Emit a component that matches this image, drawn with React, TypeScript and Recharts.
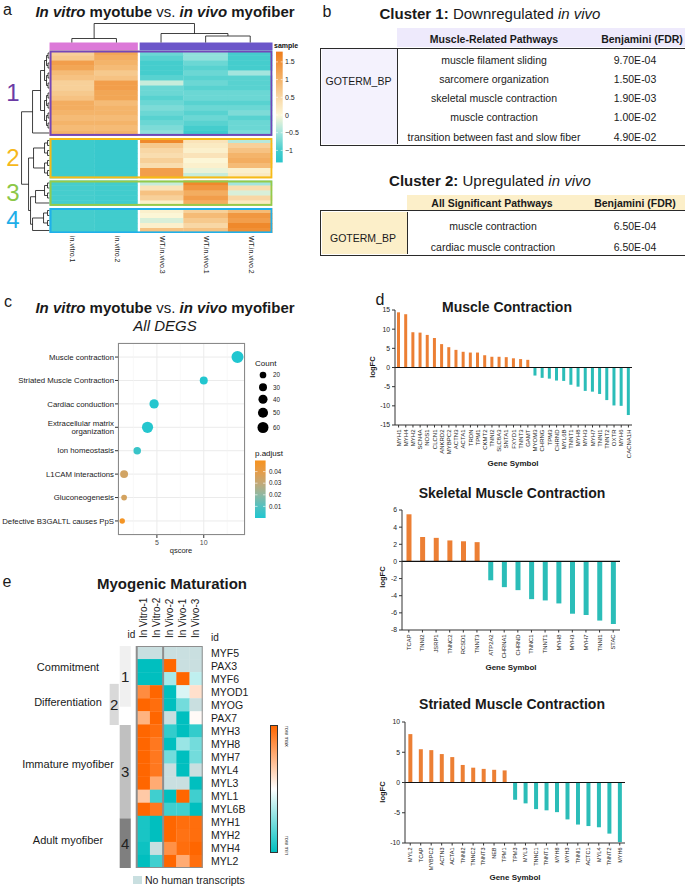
import React from 'react'
import {
  BarChart,
  Bar,
  Cell,
  XAxis,
  YAxis,
  ZAxis,
  ScatterChart,
  Scatter,
  CartesianGrid,
  ReferenceLine,
  ReferenceArea,
} from 'recharts'

const FONT = '"Liberation Sans", Arial, Helvetica, sans-serif'
const ORANGE = '#ec7f34'
const TEAL = '#2bbdb8'

// ---------- a: clustered heatmap (row z-scores) ----------
const sampleNames = ['in.vitro.1', 'in.vitro.2', 'WT.in.vivo.3', 'WT.in.vivo.1', 'WT.in.vivo.2']
const clusterLabels = ['1', '2', '3', '4']
const cluster1Rows = [
  [0.6, 1.2, -0.8, -0.6, -1.0],
  [0.7, 1.1, -0.9, -0.6, -1.0],
  [1.3, 1.0, -1.0, -0.8, -1.0],
  [1.2, 0.9, -1.0, -0.9, -1.0],
  [0.9, 0.7, -1.0, -0.8, -0.5],
  [0.8, 0.8, -0.9, -0.9, -0.9],
  [0.6, 1.3, -0.3, -0.8, -0.9],
  [0.6, 1.3, -0.8, -0.9, -0.9],
  [0.7, 1.2, -0.8, -0.8, -0.8],
  [0.8, 1.2, -0.9, -0.8, -0.8],
  [1.1, 0.9, -0.8, -0.9, -0.9],
  [1.1, 1.0, -0.7, -0.8, -0.8],
  [1.0, 1.0, -0.8, -0.9, -0.7],
  [0.9, 0.9, -0.9, -0.8, -0.9],
  [1.0, 1.0, -0.8, -0.9, -0.8],
  [0.9, 0.9, -0.7, -1.0, -0.8],
  [1.0, 1.0, -0.6, -1.1, -0.7],
]
const cluster2Rows = [
  [-1.1, -1.15, 1.6, 0.3, -0.4],
  [-1.1, -1.15, 0.7, 0.2, 0.6],
  [-1.1, -1.15, 0.5, 0.1, 0.8],
  [-1.1, -1.15, 0.4, 0.3, 1.0],
  [-1.1, -1.15, 0.6, 0.0, 1.1],
  [-1.1, -1.15, 0.4, 0.1, 0.9],
  [-1.1, -1.15, 1.3, -0.1, 0.1],
  [-1.1, -1.15, 1.3, -0.3, 0.2],
]
const cluster3Rows = [
  [-1.0, -1.05, -0.3, 1.6, -0.5],
  [-1.0, -1.05, 0.3, 1.4, 0.4],
  [-1.0, -1.05, 0.8, 1.1, -0.2],
  [-1.0, -1.05, 0.6, 1.3, 0.5],
  [-1.0, -1.05, 0.1, 1.1, 0.2],
]
const cluster4Rows = [
  [-1.0, -1.05, 0.1, 0.6, 0.9],
  [-1.0, -1.05, 0.0, 0.9, 1.4],
  [-1.0, -1.05, -0.2, 0.7, 1.3],
  [-1.0, -1.05, 0.1, 0.5, 1.6],
  [-1.0, -1.05, 0.8, 0.8, 1.5],
]
const legendTicksA = [1.5, 1, 0.5, 0, -0.5, -1]
// hclust-style merges for samples: negative = leaf, positive = earlier merge
const colMerges = [[-1, -2, 4], [-4, -5, 6.5], [-3, 2, 9], [1, 3, 19]]
// row tree: merge heights per level inside each cluster, then between clusters
const rowTreeLevels = [[1.5, 3, 5, 9, 17], [2, 5, 16], [2, 5, 14], [2, 6, 17]]
const rowTreeUpper = [19, 21, 28]

// ---------- b: tables ----------
const table1Pathways = [
  'muscle filament sliding',
  'sarcomere organization',
  'skeletal muscle contraction',
  'muscle contraction',
  'transition between fast and slow fiber',
]
const table1Fdr = ['9.70E-04', '1.50E-03', '1.90E-03', '1.00E-02', '4.90E-02']
const table2Pathways = ['muscle contraction', 'cardiac muscle contraction']
const table2Fdr = ['6.50E-04', '6.50E-04']

// ---------- c: enrichment dot plot ----------
const termLabels = [
  'Muscle contraction',
  'Striated Muscle Contraction',
  'Cardiac conduction',
  'Extracellular matrix\norganization',
  'Ion homeostasis',
  'L1CAM interactions',
  'Gluconeogenesis',
  'Defective B3GALTL causes PpS',
]
const termQscore = [13.6, 10.0, 4.7, 4.0, 2.9, 1.5, 1.5, 1.3]
const termCount = [72, 30, 42, 62, 26, 30, 14, 12]
const termPadj = [0.0002, 0.0004, 0.001, 0.001, 0.005, 0.034, 0.035, 0.048]
const countLegend = [20, 30, 40, 50, 60]
const padjLegend = [0.04, 0.03, 0.02, 0.01]

// ---------- d: logFC bar charts ----------
const mcGenes = ['MYH1', 'MYH4', 'MYH2', 'SCN4A', 'NOS1', 'CLCN1', 'ANKRD2', 'MYBPC2', 'ACTN3', 'ACTA1', 'TRDN', 'TPM1', 'CKMT2', 'TNNI2', 'SLC8A3', 'SNTA1', 'FXYD1', 'TNNT3', 'GAMT', 'MYOM3', 'CHRNG', 'TPM3', 'CHRND', 'MYL6B', 'TNNT1', 'MYH8', 'MYH3', 'MYH7', 'TNNI1', 'TNNT2', 'OXTR', 'MYH6', 'CACNA1H']
const mcLogFC = [14.4, 13.9, 9.2, 9.1, 8.5, 7.7, 6.1, 5.3, 4.6, 4.1, 3.9, 3.9, 3.2, 2.8, 2.8, 2.7, 2.4, 2.2, 2.0, -2.1, -2.7, -2.9, -3.4, -3.5, -4.5, -5.0, -6.1, -6.3, -6.9, -8.5, -9.9, -10.0, -12.4]
const skGenes = ['TCAP', 'TNNI2', 'JSRP1', 'TNNC2', 'RCSD1', 'TNNT3', 'ATP2A2', 'CHRNA1', 'CHRND', 'TNNC1', 'TNNT1', 'MYH8', 'MYH3', 'MYH7', 'TNNI1', 'STAC']
const skLogFC = [5.5, 2.85, 2.75, 2.45, 2.35, 2.25, -2.2, -3.0, -3.35, -4.4, -4.55, -4.9, -6.1, -6.25, -6.9, -7.3]
const stGenes = ['MYL2', 'TCAP', 'MYBPC2', 'ACTN3', 'ACTA1', 'TNNI2', 'TNNC2', 'TNNT3', 'NEB', 'TPM1', 'TPM3', 'MYL3', 'TNNC1', 'TNNT1', 'MYH8', 'MYH3', 'TNNI1', 'ACTC1', 'MYL4', 'TNNT2', 'MYH6']
const stLogFC = [8.0, 5.5, 5.35, 4.7, 4.2, 2.9, 2.45, 2.25, 2.1, 2.0, -2.85, -3.45, -4.4, -4.6, -4.9, -6.1, -6.95, -7.2, -7.4, -8.45, -9.85]

// ---------- e: myogenic maturation heatmap ----------
const eSamples = ['In Vitro-1', 'In Vitro-2', 'In Vivo-2', 'In Vivo-1', 'In Vivo-3']
const eGenes = ['MYF5', 'PAX3', 'MYF6', 'MYOD1', 'MYOG', 'PAX7', 'MYH3', 'MYH8', 'MYH7', 'MYL4', 'MYL3', 'MYL1', 'MYL6B', 'MYH1', 'MYH2', 'MYH4', 'MYL2']
// null = no human transcripts
const eValues = [
  [null, null, null, null, null],
  [-1, -1, 1, null, null],
  [-1, -1, -0.35, 1, -0.25],
  [0.75, 1, -1, -0.15, 0.2],
  [1, 0.95, -1, -0.55, null],
  [0.5, 1, null, -1, 0.03],
  [1, 0.95, -0.8, -1, -0.8],
  [1, 0.88, -1, -0.4, -0.55],
  [1, 0.88, -0.55, -1, -0.55],
  [1, 0.88, null, -1, null],
  [1, 0.55, null, null, -1],
  [0.35, -0.75, -1, 1, -0.75],
  [1, 0.88, -0.75, -0.75, -1],
  [-0.9, -1, 1, 0.95, 0.95],
  [-0.9, -1, 1, 0.92, 0.95],
  [-0.95, null, 0.72, 0.95, 1],
  [-1, -0.75, 1, 0.55, 0.95],
]
const eGroupIds = ['1', '2', '3', '4']
const eGroupNames = ['Commitment', 'Differentiation', 'Immature myofiber', 'Adult myofiber']
const eGroupSpans = [[0, 4.65], [2.9, 6.05], [6.05, 13.2], [13.2, 17]]

// ---------- colour helpers ----------
const A_STOPS: [number, string][] = [
  [-1.34, '#29c5cc'], [-1, '#45cdcd'], [-0.5, '#a3e5de'], [0, '#fcf6d6'],
  [0.5, '#f8d7a5'], [1, '#f4b46a'], [1.5, '#f09036'], [1.79, '#ee7d1a'],
]
const P_STOPS: [number, string][] = [
  [0, '#20c6d0'], [0.01, '#52c1c0'], [0.02, '#8fb8a2'], [0.03, '#c3a977'], [0.04, '#e59c48'], [0.0496, '#f7931e'],
]
const E_STOPS: [number, string][] = [[-1, '#00bfbf'], [0, '#ffffff'], [1, '#ff6600']]
const NO_HUMAN = '#c9dfe0'

function rgb(h: string) {
  return [1, 3, 5].map((i) => parseInt(h.slice(i, i + 2), 16))
}
function mix(stops: [number, string][], v: number) {
  if (v <= stops[0][0]) return stops[0][1]
  for (let i = 1; i < stops.length; i++) {
    if (v <= stops[i][0]) {
      const [v0, c0] = stops[i - 1]
      const [v1, c1] = stops[i]
      const t = (v - v0) / (v1 - v0)
      const a = rgb(c0), b = rgb(c1)
      return `rgb(${a.map((x, k) => Math.round(x + (b[k] - x) * t)).join(',')})`
    }
  }
  return stops[stops.length - 1][1]
}

// ---------- small text helpers ----------
function Txt({ x, y, size = 10, anchor = 'middle', weight = 400, italic = false, color = '#1a1a1a', children }: any) {
  const tx = anchor === 'middle' ? '-50%' : anchor === 'end' ? '-100%' : '0'
  return (
    <div
      style={{
        position: 'absolute', left: x, top: y, fontSize: size, fontWeight: weight,
        fontStyle: italic ? 'italic' : 'normal', color, lineHeight: 1, whiteSpace: 'nowrap',
        transform: `translate(${tx}, -50%)`,
      }}
    >
      {children}
    </div>
  )
}

// text that starts at (x, y) and runs up ('up') or down ('down')
function VTxt({ x, y, size = 10, dir = 'up', color = '#1a1a1a', weight = 400, children }: any) {
  return (
    <div
      style={{
        position: 'absolute', left: x, top: y, fontSize: size, fontWeight: weight, color,
        lineHeight: 1, whiteSpace: 'nowrap', transformOrigin: '0 0',
        transform: `rotate(${dir === 'up' ? -90 : 90}deg) translate(0, -50%)`,
      }}
    >
      {children}
    </div>
  )
}

function CTxt({ x, y, size = 8, weight = 700, children }: any) {
  return (
    <div
      style={{
        position: 'absolute', left: x, top: y, fontSize: size, fontWeight: weight, lineHeight: 1,
        whiteSpace: 'nowrap', transform: 'translate(-50%, -50%) rotate(-90deg)',
      }}
    >
      {children}
    </div>
  )
}

function Title({ x, y }: any) {
  return (
    <Txt x={x} y={y} size={15} weight={700}>
      <i>In vitro</i> myotube <span style={{ fontWeight: 400 }}>vs.</span> <i>in vivo</i> myofiber
    </Txt>
  )
}

// ---------- panel a ----------
const A_CW = 44.6
const A_RH = 5
const A_XMIN = -0.64
const A_YMIN = -5.5
const A_YMAX = 36.5
const ANNOT_TOP = -1.6
const clusterColors = ['#7447b8', '#f6bb17', '#95ca4b', '#1fb0ea']
const clusterNumColors = ['#6b3aa5', '#f6b81a', '#8cc747', '#1eaee8']

type TreeNode = { pos: number; h: number }
type TreeSeg = { p1: number; h1: number; p2: number; h2: number }

function joinNodes(a: TreeNode, b: TreeNode, h: number, out: TreeSeg[]): TreeNode {
  out.push({ p1: a.pos, h1: a.h, p2: a.pos, h2: h })
  out.push({ p1: b.pos, h1: b.h, p2: b.pos, h2: h })
  out.push({ p1: a.pos, h1: h, p2: b.pos, h2: h })
  return { pos: (a.pos + b.pos) / 2, h }
}

const clusterRows = [cluster1Rows, cluster2Rows, cluster3Rows, cluster4Rows]
const clusterStarts: number[] = []
{
  let s = 0
  clusterRows.forEach((rows) => {
    clusterStarts.push(s)
    s += rows.length + 0.5
  })
}

const aCells = clusterRows.flatMap((rows, k) =>
  rows.flatMap((row, i) =>
    row.map((v, c) => ({ x: c + 0.5, y: clusterStarts[k] + i + 0.5, fill: mix(A_STOPS, v) }))
  )
)
const aBoxes = clusterRows.map((rows, k) => ({ x: 2.5, y: clusterStarts[k] + rows.length / 2, n: rows.length, k }))

function buildRowTree() {
  const segs: TreeSeg[] = []
  const roots = clusterRows.map((rows, k) => {
    let nodes: TreeNode[] = rows.map((_, i) => ({ pos: clusterStarts[k] + i + 0.5, h: 0 }))
    for (const h of rowTreeLevels[k]) {
      const next: TreeNode[] = []
      for (let i = 0; i < nodes.length; i += 2) {
        if (i + 1 < nodes.length) next.push(joinNodes(nodes[i], nodes[i + 1], h, segs))
        else next.push(nodes[i])
      }
      nodes = next
    }
    return nodes[0]
  })
  const n34 = joinNodes(roots[2], roots[3], rowTreeUpper[0], segs)
  const n234 = joinNodes(roots[1], n34, rowTreeUpper[1], segs)
  joinNodes(roots[0], n234, rowTreeUpper[2], segs)
  return segs.map((s) => ({ x1: -s.h1 / A_CW, y1: s.p1, x2: -s.h2 / A_CW, y2: s.p2 }))
}

function buildColTree() {
  const segs: TreeSeg[] = []
  const nodes: TreeNode[] = []
  const get = (k: number) => (k < 0 ? { pos: -k - 0.5, h: 0 } : nodes[k - 1])
  colMerges.forEach(([a, b, h]) => nodes.push(joinNodes(get(a), get(b), h, segs)))
  return segs.map((s) => ({
    x1: s.p1, y1: ANNOT_TOP - s.h1 / A_RH, x2: s.p2, y2: ANNOT_TOP - s.h2 / A_RH,
  }))
}

const rowTree = buildRowTree()
const colTree = buildColTree()

function PanelA() {
  const left = 50 + A_XMIN * A_CW
  const top = 50 + A_YMIN * A_RH
  const w = (5 - A_XMIN) * A_CW
  const h = (A_YMAX - A_YMIN) * A_RH
  const lgTop = 1.79
  const lgBot = -1.34
  const lgY = (v: number) => 115 - v * 35.4
  return (
    <>
      <Txt x={7.5} y={10} size={16}>a</Txt>
      <Title x={165} y={11} />
      <div style={{ position: 'absolute', left, top }}>
        <ScatterChart width={w} height={h} margin={{ top: 0, right: 0, bottom: 0, left: 0 }}>
          <XAxis type="number" dataKey="x" domain={[A_XMIN, 5]} hide allowDataOverflow />
          <YAxis type="number" dataKey="y" domain={[A_YMIN, A_YMAX]} hide reversed allowDataOverflow />
          <ReferenceArea x1={0} x2={1.98} y1={ANNOT_TOP} y2={-0.05} fill="#dc79d8" fillOpacity={1} ifOverflow="visible" />
          <ReferenceArea x1={2.02} x2={5} y1={ANNOT_TOP} y2={-0.05} fill="#6b56c9" fillOpacity={1} ifOverflow="visible" />
          {[...rowTree, ...colTree].map((s, i) => (
            <ReferenceLine
              key={'t' + i}
              segment={[{ x: s.x1, y: s.y1 }, { x: s.x2, y: s.y2 }]}
              stroke="#111"
              strokeWidth={0.8}
              ifOverflow="visible"
            />
          ))}
          <Scatter
            data={aCells}
            isAnimationActive={false}
            shape={(p: any) => {
              // leave a white gap between the in vitro and in vivo blocks
              const gl = p.payload.x === 2.5 ? 1.3 : 0
              const gr = p.payload.x === 1.5 ? 1.3 : 0
              return (
                <rect
                  x={p.cx - A_CW / 2 + gl}
                  y={p.cy - A_RH / 2}
                  width={A_CW + 0.3 - gl - gr}
                  height={A_RH + 0.4}
                  fill={p.payload.fill}
                />
              )
            }}
          />
          <Scatter
            data={aBoxes}
            isAnimationActive={false}
            shape={(p: any) => (
              <rect
                x={p.cx - 2.5 * A_CW + 1}
                y={p.cy - (p.payload.n * A_RH) / 2 + 1}
                width={5 * A_CW - 2}
                height={p.payload.n * A_RH - 1.6}
                fill="none"
                stroke={clusterColors[p.payload.k]}
                strokeWidth={2}
              />
            )}
          />
        </ScatterChart>
      </div>
      {clusterLabels.map((lab, k) => (
        <Txt key={lab} x={13} y={50 + (clusterStarts[k] + clusterRows[k].length / 2) * A_RH} size={24} color={clusterNumColors[k]}>
          {lab}
        </Txt>
      ))}
      {sampleNames.map((s, i) => (
        <VTxt key={s} x={50 + (i + 0.5) * A_CW} y={236} size={7} dir="down" color="#222">
          {s}
        </VTxt>
      ))}
      <svg style={{ position: 'absolute', left: 0, top: 0 }} width={310} height={180}>
        <defs>
          <linearGradient id="gradA" x1="0" y1="0" x2="0" y2="1">
            {[...A_STOPS].reverse().map(([v, c]) => (
              <stop key={v} offset={(lgTop - v) / (lgTop - lgBot)} stopColor={c} />
            ))}
          </linearGradient>
        </defs>
        <text x={274} y={47.5} fontSize={7} fontWeight={700} fontFamily={FONT} fill="#111">sample</text>
        <rect x={276} y={lgY(lgTop)} width={6.7} height={lgY(lgBot) - lgY(lgTop)} fill="url(#gradA)" />
        {legendTicksA.map((v) => (
          <g key={v}>
            <line x1={276} x2={278} y1={lgY(v)} y2={lgY(v)} stroke="#fff" strokeWidth={0.6} />
            <line x1={280.7} x2={282.7} y1={lgY(v)} y2={lgY(v)} stroke="#fff" strokeWidth={0.6} />
            <text x={285} y={lgY(v) + 2.5} fontSize={7} fontFamily={FONT} fill="#222">
              {v < 0 ? '\u2212' + Math.abs(v) : v}
            </text>
          </g>
        ))}
      </svg>
    </>
  )
}

// ---------- panel b ----------
function PanelB() {
  const border = '1.5px solid #2a2a2a'
  return (
    <>
      <Txt x={327} y={12} size={16}>b</Txt>
      <Txt x={490} y={13} size={15}>
        <b>Cluster 1:</b> Downregulated <i>in vivo</i>
      </Txt>
      <div style={{ position: 'absolute', left: 397, top: 28, width: 300, height: 19, background: '#eeeafc' }} />
      <Txt x={494} y={38.5} size={10.5} weight={700}>Muscle-Related Pathways</Txt>
      <Txt x={642} y={38.5} size={10.5} weight={700}>Benjamini (FDR)</Txt>
      <div style={{ position: 'absolute', left: 320, top: 47.5, width: 380, height: 98, border, boxSizing: 'border-box' }} />
      <div style={{ position: 'absolute', left: 321.5, top: 49, width: 75.5, height: 95, background: '#f4f2fd', borderRight: border }} />
      <Txt x={358.5} y={81} size={10.5}>GOTERM_BP</Txt>
      {table1Pathways.map((p, i) => (
        <React.Fragment key={p}>
          <Txt x={494} y={59.5 + i * 19.3} size={10.5}>{p}</Txt>
          <Txt x={635} y={59.5 + i * 19.3} size={10.5}>{table1Fdr[i]}</Txt>
        </React.Fragment>
      ))}

      <Txt x={490} y={180} size={15}>
        <b>Cluster 2:</b> Upregulated <i>in vivo</i>
      </Txt>
      <div style={{ position: 'absolute', left: 407, top: 195, width: 290, height: 15, background: '#fcefc9' }} />
      <Txt x={492} y={203} size={10.5} weight={700}>All Significant Pathways</Txt>
      <Txt x={635} y={203} size={10.5} weight={700}>Benjamini (FDR)</Txt>
      <div style={{ position: 'absolute', left: 320, top: 210, width: 380, height: 45.5, border, boxSizing: 'border-box' }} />
      <div style={{ position: 'absolute', left: 321.5, top: 211.5, width: 85.5, height: 42.5, background: '#fcefc9', borderRight: border }} />
      <Txt x={363} y={237.5} size={10.5}>GOTERM_BP</Txt>
      {table2Pathways.map((p, i) => (
        <React.Fragment key={p}>
          <Txt x={493} y={226 + i * 21} size={10.5}>{p}</Txt>
          <Txt x={635} y={226 + i * 21} size={10.5}>{table2Fdr[i]}</Txt>
        </React.Fragment>
      ))}
    </>
  )
}

// ---------- panel c ----------
const countArea = (n: number) => 5 + 1.5 * n

function TermTick({ x, y, payload }: any) {
  const lines = termLabels[payload.value - 1].split('\n')
  return (
    <text x={x} y={y} textAnchor="end" fontSize={7.8} fontFamily={FONT} fill="#1a1a1a">
      {lines.map((l, i) => (
        <tspan key={i} x={x} dy={i === 0 ? `${0.35 - (lines.length - 1) * 0.55}em` : '1.1em'}>
          {l}
        </tspan>
      ))}
    </text>
  )
}

function PanelC() {
  const data = termLabels.map((t, i) => ({
    idx: i + 1, q: termQscore[i], count: termCount[i], padj: termPadj[i],
  }))
  const minC = Math.min(...termCount)
  const maxC = Math.max(...termCount)
  const pY = (p: number) => 518 - p * 1160
  return (
    <>
      <Txt x={8} y={302} size={16}>c</Txt>
      <Title x={165} y={307} />
      <Txt x={165} y={325} size={15} italic>All DEGS</Txt>
      <div style={{ position: 'absolute', left: 0, top: 333 }}>
        <ScatterChart width={250} height={219} margin={{ top: 10, right: 5, bottom: 0, left: 0 }}>
          <CartesianGrid stroke="#ebebeb" strokeWidth={1} />
          <ReferenceLine x={2.5} stroke="#f5f5f5" strokeWidth={0.6} />
          <ReferenceLine x={7.5} stroke="#f5f5f5" strokeWidth={0.6} />
          <ReferenceLine x={12.5} stroke="#f5f5f5" strokeWidth={0.6} />
          <XAxis
            type="number"
            dataKey="q"
            domain={[0.85, 14.4]}
            ticks={[5, 10]}
            allowDataOverflow
            height={17}
            tickSize={3}
            axisLine={false}
            tickLine={{ stroke: '#333' }}
            tick={{ fontSize: 7, fill: '#4d4d4d', fontFamily: FONT }}
          />
          <YAxis
            type="number"
            dataKey="idx"
            domain={[0.4, 8.6]}
            ticks={[1, 2, 3, 4, 5, 6, 7, 8]}
            reversed
            allowDataOverflow
            width={118}
            tickSize={3}
            tickMargin={1}
            axisLine={false}
            tickLine={{ stroke: '#333' }}
            tick={(p: any) => <TermTick {...p} />}
          />
          <ZAxis type="number" dataKey="count" domain={[minC, maxC]} range={[countArea(minC), countArea(maxC)]} />
          <Scatter data={data} isAnimationActive={false}>
            {data.map((d) => (
              <Cell key={d.idx} fill={mix(P_STOPS, d.padj)} />
            ))}
          </Scatter>
        </ScatterChart>
      </div>
      <div style={{ position: 'absolute', left: 118, top: 343, width: 127, height: 192, border: '1px solid #8a8a8a', boxSizing: 'border-box' }} />
      <Txt x={181} y={551} size={7.5} color="#222">qscore</Txt>
      <svg style={{ position: 'absolute', left: 0, top: 0 }} width={300} height={560}>
        <defs>
          <linearGradient id="gradP" x1="0" y1="1" x2="0" y2="0">
            {P_STOPS.map(([v, c]) => (
              <stop key={v} offset={v / 0.0496} stopColor={c} />
            ))}
          </linearGradient>
        </defs>
        <text x={255} y={366} fontSize={8} fontFamily={FONT} fill="#111">Count</text>
        {countLegend.map((n, i) => (
          <g key={n}>
            <circle cx={263} cy={[375, 387.3, 399.3, 412.7, 427.5][i]} r={Math.sqrt(countArea(n) / Math.PI)} fill="#000" />
            <text x={273} y={[375, 387.3, 399.3, 412.7, 427.5][i] + 2.2} fontSize={6.3} fontFamily={FONT} fill="#222">{n}</text>
          </g>
        ))}
        <text x={255} y={456} fontSize={8} fontFamily={FONT} fill="#111">p.adjust</text>
        <rect x={255} y={pY(0.0496)} width={10.6} height={pY(0) - pY(0.0496)} fill="url(#gradP)" />
        {padjLegend.map((p) => (
          <g key={p}>
            <line x1={255} x2={257.5} y1={pY(p)} y2={pY(p)} stroke="#fff" strokeWidth={0.6} />
            <line x1={263} x2={265.6} y1={pY(p)} y2={pY(p)} stroke="#fff" strokeWidth={0.6} />
            <text x={269} y={pY(p) + 2.2} fontSize={6.3} fontFamily={FONT} fill="#222">{p.toFixed(2)}</text>
          </g>
        ))}
      </svg>
    </>
  )
}

// ---------- panel d ----------
function GeneTick({ x, y, payload, size }: any) {
  return (
    <text
      x={x}
      y={y}
      transform={`rotate(-90 ${x} ${y})`}
      textAnchor="end"
      dy="0.35em"
      fontSize={size}
      fontFamily={FONT}
      fill="#222"
    >
      {payload.value}
    </text>
  )
}

function LogFcChart({ genes, values, domain, ticks, left, top, width, height, margin, xHeight, gap, labelSize }: any) {
  const data = genes.map((g: string, i: number) => ({ gene: g, logFC: values[i] }))
  return (
    <div style={{ position: 'absolute', left, top }}>
      <BarChart width={width} height={height} data={data} margin={margin} barCategoryGap={gap}>
        <XAxis
          dataKey="gene"
          interval={0}
          height={xHeight}
          tickSize={2.5}
          axisLine={{ stroke: '#333' }}
          tickLine={{ stroke: '#333' }}
          tick={(p: any) => <GeneTick {...p} size={labelSize} />}
        />
        <YAxis
          type="number"
          domain={domain}
          ticks={ticks}
          allowDataOverflow
          width={22}
          tickSize={3}
          axisLine={{ stroke: '#333' }}
          tickLine={{ stroke: '#333' }}
          tick={{ fontSize: 6.8, fill: '#222', fontFamily: FONT }}
        />
        <Bar dataKey="logFC" isAnimationActive={false}>
          {data.map((d: any) => (
            <Cell key={d.gene} fill={d.logFC > 0 ? ORANGE : TEAL} />
          ))}
        </Bar>
        <ReferenceLine y={0} stroke="#111" strokeWidth={1.2} />
      </BarChart>
    </div>
  )
}

function PanelD() {
  return (
    <>
      <Txt x={380} y={300} size={16}>d</Txt>
      <Txt x={507} y={307} size={14} weight={700}>Muscle Contraction</Txt>
      <LogFcChart
        genes={mcGenes}
        values={mcLogFC}
        domain={[-15, 15]}
        ticks={[-15, -10, -5, 0, 5, 10, 15]}
        left={370}
        top={295}
        width={270}
        height={165}
        margin={{ top: 15, right: 8, bottom: 0, left: 3 }}
        xHeight={35}
        gap="28%"
        labelSize={6}
      />
      <CTxt x={373} y={367} size={7.5}>logFC</CTxt>
      <Txt x={513} y={464} size={8} weight={700}>Gene Symbol</Txt>

      <Txt x={512} y={493} size={14} weight={700}>Skeletal Muscle Contraction</Txt>
      <LogFcChart
        genes={skGenes}
        values={skLogFC}
        domain={[-8, 6]}
        ticks={[-8, -6, -4, -2, 0, 2, 4, 6]}
        left={370}
        top={500}
        width={255}
        height={160}
        margin={{ top: 10, right: 5, bottom: 0, left: 10 }}
        xHeight={30}
        gap="33%"
        labelSize={5.8}
      />
      <CTxt x={383} y={577} size={7.5}>logFC</CTxt>
      <Txt x={511} y={668} size={8} weight={700}>Gene Symbol</Txt>

      <Txt x={512} y={704} size={14} weight={700}>Striated Muscle Contraction</Txt>
      <LogFcChart
        genes={stGenes}
        values={stLogFC}
        domain={[-10, 10]}
        ticks={[-10, -5, 0, 5, 10]}
        left={370}
        top={712}
        width={260}
        height={158}
        margin={{ top: 10, right: 5, bottom: 0, left: 13 }}
        xHeight={27}
        gap="32%"
        labelSize={5.5}
      />
      <CTxt x={383} y={792} size={7.5}>logFC</CTxt>
      <Txt x={515} y={878} size={8} weight={700}>Gene Symbol</Txt>
    </>
  )
}

// ---------- panel e ----------
const E_CW = 13.2
const E_RH = 13.06
const E_X0 = 137
const E_Y0 = 646
const E_XMIN = -2.1
const groupLanes = [[-1.29, -0.45], [-2.05, -1.36], [-1.29, -0.45], [-1.29, -0.45]]
const groupFills = ['#f0f0f0', '#d9d9d9', '#c0c0c0', '#7f7f7f']
const groupLabelY = [667, 702, 764, 840]

function PanelE() {
  const cells = eValues.flatMap((row, r) =>
    row.map((v, c) => ({ x: c + 0.5, y: r + 0.5, fill: v === null ? NO_HUMAN : mix(E_STOPS, v) }))
  )
  const frame = [{ x: 2.5, y: 8.5 }]
  return (
    <>
      <Txt x={7} y={582} size={16}>e</Txt>
      <Txt x={172} y={583} size={15} weight={700}>Myogenic Maturation</Txt>
      <div style={{ position: 'absolute', left: E_X0 + E_XMIN * E_CW, top: E_Y0 }}>
        <ScatterChart width={(5 - E_XMIN) * E_CW} height={17 * E_RH} margin={{ top: 0, right: 0, bottom: 0, left: 0 }}>
          <XAxis type="number" dataKey="x" domain={[E_XMIN, 5]} hide allowDataOverflow />
          <YAxis type="number" dataKey="y" domain={[0, 17]} hide reversed allowDataOverflow />
          {eGroupIds.map((id, k) => (
            <ReferenceArea
              key={id}
              x1={groupLanes[k][0]}
              x2={groupLanes[k][1]}
              y1={eGroupSpans[k][0]}
              y2={eGroupSpans[k][1]}
              fill={groupFills[k]}
              fillOpacity={1}
              ifOverflow="visible"
              label={{ value: id, position: 'center', fontSize: 15, fill: '#222', fontFamily: FONT }}
            />
          ))}
          <Scatter
            data={cells}
            isAnimationActive={false}
            shape={(p: any) => (
              <rect x={p.cx - E_CW / 2} y={p.cy - E_RH / 2} width={E_CW + 0.3} height={E_RH + 0.3} fill={p.payload.fill} />
            )}
          />
          <Scatter
            data={frame}
            isAnimationActive={false}
            shape={(p: any) => (
              <g fill="none" stroke="#8e8e8e" strokeWidth={2}>
                <rect x={p.cx - 2.5 * E_CW} y={p.cy - 8.5 * E_RH} width={5 * E_CW} height={17 * E_RH} />
                <line x1={p.cx - 0.5 * E_CW} x2={p.cx - 0.5 * E_CW} y1={p.cy - 8.5 * E_RH} y2={p.cy + 8.5 * E_RH} />
              </g>
            )}
          />
        </ScatterChart>
      </div>
      {eGroupNames.map((n, k) => (
        <Txt key={n} x={68} y={groupLabelY[k]} size={11}>{n}</Txt>
      ))}
      <Txt x={131.5} y={635} size={10}>id</Txt>
      <Txt x={211} y={638} size={10} anchor="start">id</Txt>
      {eSamples.map((s, i) => (
        <VTxt key={s} x={E_X0 + (i + 0.5) * E_CW} y={638} size={10} dir="up">
          {s}
        </VTxt>
      ))}
      {eGenes.map((g, r) => (
        <Txt key={g} x={211} y={E_Y0 + (r + 0.5) * E_RH} size={10.5} anchor="start">{g}</Txt>
      ))}
      <div
        style={{
          position: 'absolute', left: 270, top: 725, width: 8, height: 128, boxSizing: 'border-box',
          border: '1px solid #333', background: 'linear-gradient(to bottom, #ff6600, #ffffff 50%, #00bfbf)',
        }}
      />
      <VTxt x={286} y={726} size={5.5} dir="down" color="#333">row max</VTxt>
      <VTxt x={286} y={836} size={5.5} dir="down" color="#333">row min</VTxt>
      <div style={{ position: 'absolute', left: 133, top: 876, width: 9, height: 8, background: NO_HUMAN }} />
      <Txt x={145} y={880} size={10.5} anchor="start">No human transcripts</Txt>
    </>
  )
}

export default function App() {
  return (
    <div
      style={{
        position: 'absolute', left: 0, top: 0, width: 685, height: 888, overflow: 'hidden',
        background: '#fff', fontFamily: FONT, color: '#1a1a1a',
      }}
    >
      <PanelA />
      <PanelB />
      <PanelC />
      <PanelD />
      <PanelE />
    </div>
  )
}
